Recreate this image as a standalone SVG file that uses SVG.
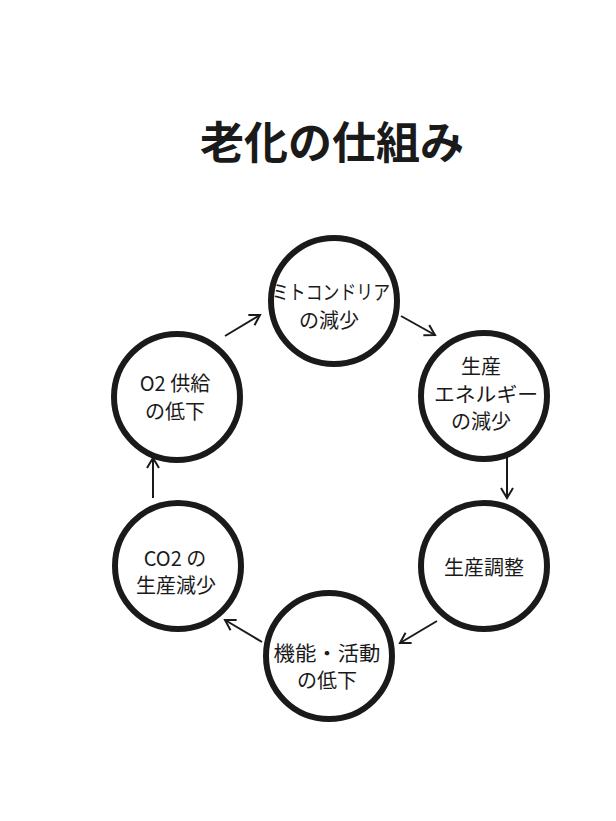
<svg xmlns="http://www.w3.org/2000/svg" width="616" height="821" viewBox="0 0 616 821">
<style>
.c{fill:#fff;stroke:#1a1a1a;stroke-width:6}
.t{font-family:"Noto Sans CJK JP","Noto Sans",sans-serif;font-size:20px;fill:#1a1a1a;text-anchor:middle}
.a{fill:none;stroke:#1a1a1a;stroke-width:2;marker-end:url(#h)}
</style>
<defs>
<marker id="h" markerUnits="userSpaceOnUse" markerWidth="16" markerHeight="16" refX="12" refY="7" orient="auto" viewBox="0 0 16 14">
<path d="M2,1 L12,7 L2,13" fill="none" stroke="#1a1a1a" stroke-width="2"/>
</marker>
</defs>
<rect width="616" height="821" fill="#fff"/>
<text x="332" y="159" font-family="Noto Sans CJK JP,sans-serif" font-size="44" font-weight="bold" text-anchor="middle" fill="#1a1a1a">老化の仕組み</text>
<g id="connectors">
<line class="a" x1="401" y1="316" x2="435" y2="335"/>
<line class="a" x1="507" y1="457" x2="507" y2="498"/>
<line class="a" x1="437" y1="621" x2="400" y2="643"/>
<line class="a" x1="262" y1="642" x2="225" y2="620"/>
<line class="a" x1="153" y1="498" x2="153" y2="458"/>
<line class="a" x1="225" y1="336" x2="260" y2="315"/>
</g>
<g id="n1"><circle class="c" cx="334" cy="301" r="63"/>
<text class="t" x="331" y="300" textLength="118" lengthAdjust="spacingAndGlyphs">ミトコンドリア</text>
<text class="t" x="329" y="328">の減少</text></g>
<g id="n2"><circle class="c" cx="484" cy="396" r="63"/>
<text class="t" x="481" y="374">生産</text>
<text class="t" x="486" y="402" textLength="104" lengthAdjust="spacingAndGlyphs">エネルギー</text>
<text class="t" x="481" y="429">の減少</text></g>
<g id="n3"><circle class="c" cx="484" cy="566" r="63"/>
<text class="t" x="484" y="575" font-size="21">生産調整</text></g>
<g id="n4"><circle class="c" cx="329" cy="656" r="63"/>
<text class="t" x="327" y="661" textLength="107" lengthAdjust="spacingAndGlyphs">機能・活動</text>
<text class="t" x="327" y="688">の低下</text></g>
<g id="n5"><circle class="c" cx="178" cy="566" r="63"/>
<text class="t" x="175" y="566">CO2 の</text>
<text class="t" x="176" y="593">生産減少</text></g>
<g id="n6"><circle class="c" cx="177" cy="397" r="63"/>
<text class="t" x="175" y="391">O2 供給</text>
<text class="t" x="175" y="419">の低下</text></g>
</svg>
